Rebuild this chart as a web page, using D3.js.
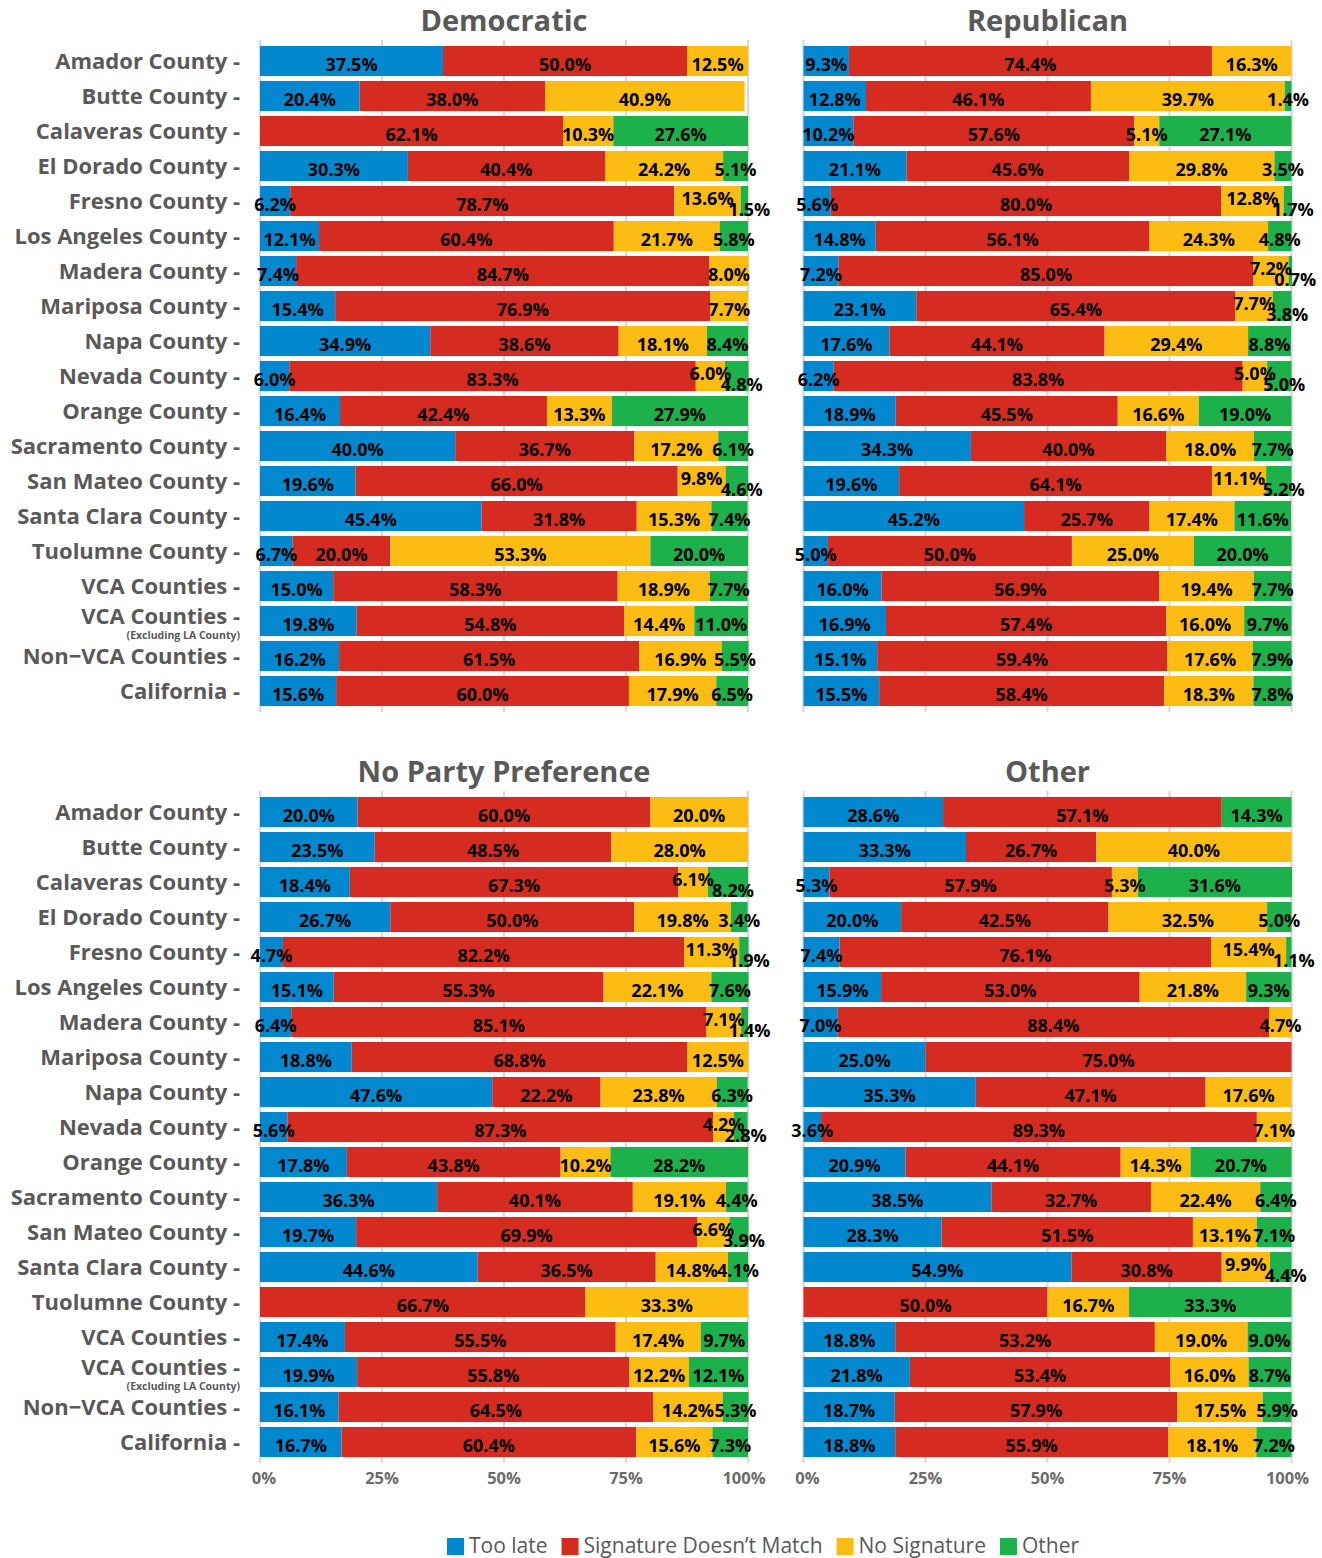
<!DOCTYPE html>
<html>
<head>
<meta charset="utf-8">
<script src="https://cdn.jsdelivr.net/npm/d3@7"></script>
<style>
  body { margin: 0; background: #fff; }
  text { font-family: "Open Sans", sans-serif; }
</style>
</head>
<body>
<script>
// Rejected ballot reasons by county, share of rejected ballots (%)
// each row: [Too late, Signature Doesn't Match, No Signature, Other]
const counties = [
  "Amador County", "Butte County", "Calaveras County", "El Dorado County",
  "Fresno County", "Los Angeles County", "Madera County", "Mariposa County",
  "Napa County", "Nevada County", "Orange County", "Sacramento County",
  "San Mateo County", "Santa Clara County", "Tuolumne County", "VCA Counties",
  "VCA Counties (Excluding LA County)", "Non\u2212VCA Counties", "California"
];
const causes = ["Too late", "Signature Doesn\u2019t Match", "No Signature", "Other"];
const causeColors = ["#0288cf", "#d62b20", "#fdbc12", "#1db14b"];
const parties = ["Democratic", "Republican", "No Party Preference", "Other"];
const xTicks = [0, 25, 50, 75, 100];

const democratic = [
  [37.5, 50.0, 12.5, 0], [20.4, 38.0, 40.9, 0], [0, 62.1, 10.3, 27.6], [30.3, 40.4, 24.2, 5.1],
  [6.2, 78.7, 13.6, 1.5], [12.1, 60.4, 21.7, 5.8], [7.4, 84.7, 8.0, 0], [15.4, 76.9, 7.7, 0],
  [34.9, 38.6, 18.1, 8.4], [6.0, 83.3, 6.0, 4.8], [16.4, 42.4, 13.3, 27.9], [40.0, 36.7, 17.2, 6.1],
  [19.6, 66.0, 9.8, 4.6], [45.4, 31.8, 15.3, 7.4], [6.7, 20.0, 53.3, 20.0], [15.0, 58.3, 18.9, 7.7],
  [19.8, 54.8, 14.4, 11.0], [16.2, 61.5, 16.9, 5.5], [15.6, 60.0, 17.9, 6.5]
];
const republican = [
  [9.3, 74.4, 16.3, 0], [12.8, 46.1, 39.7, 1.4], [10.2, 57.6, 5.1, 27.1], [21.1, 45.6, 29.8, 3.5],
  [5.6, 80.0, 12.8, 1.7], [14.8, 56.1, 24.3, 4.8], [7.2, 85.0, 7.2, 0.7], [23.1, 65.4, 7.7, 3.8],
  [17.6, 44.1, 29.4, 8.8], [6.2, 83.8, 5.0, 5.0], [18.9, 45.5, 16.6, 19.0], [34.3, 40.0, 18.0, 7.7],
  [19.6, 64.1, 11.1, 5.2], [45.2, 25.7, 17.4, 11.6], [5.0, 50.0, 25.0, 20.0], [16.0, 56.9, 19.4, 7.7],
  [16.9, 57.4, 16.0, 9.7], [15.1, 59.4, 17.6, 7.9], [15.5, 58.4, 18.3, 7.8]
];
const noPartyPreference = [
  [20.0, 60.0, 20.0, 0], [23.5, 48.5, 28.0, 0], [18.4, 67.3, 6.1, 8.2], [26.7, 50.0, 19.8, 3.4],
  [4.7, 82.2, 11.3, 1.9], [15.1, 55.3, 22.1, 7.6], [6.4, 85.1, 7.1, 1.4], [18.8, 68.8, 12.5, 0],
  [47.6, 22.2, 23.8, 6.3], [5.6, 87.3, 4.2, 2.8], [17.8, 43.8, 10.2, 28.2], [36.3, 40.1, 19.1, 4.4],
  [19.7, 69.9, 6.6, 3.9], [44.6, 36.5, 14.8, 4.1], [0, 66.7, 33.3, 0], [17.4, 55.5, 17.4, 9.7],
  [19.9, 55.8, 12.2, 12.1], [16.1, 64.5, 14.2, 5.3], [16.7, 60.4, 15.6, 7.3]
];
const otherParty = [
  [28.6, 57.1, 0, 14.3], [33.3, 26.7, 40.0, 0], [5.3, 57.9, 5.3, 31.6], [20.0, 42.5, 32.5, 5.0],
  [7.4, 76.1, 15.4, 1.1], [15.9, 53.0, 21.8, 9.3], [7.0, 88.4, 4.7, 0], [25.0, 75.0, 0, 0],
  [35.3, 47.1, 17.6, 0], [3.6, 89.3, 7.1, 0], [20.9, 44.1, 14.3, 20.7], [38.5, 32.7, 22.4, 6.4],
  [28.3, 51.5, 13.1, 7.1], [54.9, 30.8, 9.9, 4.4], [0, 50.0, 16.7, 33.3], [18.8, 53.2, 19.0, 9.0],
  [21.8, 53.4, 16.0, 8.7], [18.7, 57.9, 17.5, 5.9], [18.8, 55.9, 18.1, 7.2]
];
const partyData = [democratic, republican, noPartyPreference, otherParty];

// layout
const W = 1322, H = 1558;
const panelW = 488, panelH = 665;
const colX = [260, 803.5];
const rowY = [43.5, 794.5];
const grey = "#595959";

const svg = d3.select("body").append("svg")
  .attr("width", W)
  .attr("height", H);

const stack = d3.stack().keys([0, 1, 2, 3]);

parties.forEach((party, p) => {
  const col = p % 2, row = Math.floor(p / 2);
  const x = d3.scaleLinear().domain([0, 100]).range([colX[col], colX[col] + panelW]);
  const y = d3.scaleBand().domain(counties).range([rowY[row], rowY[row] + panelH])
    .paddingInner(0.14).paddingOuter(0.07);

  const g = svg.append("g");

  // panel title
  g.append("text")
    .attr("x", x(50))
    .attr("y", rowY[row] - 13)
    .attr("text-anchor", "middle")
    .attr("font-size", 29)
    .attr("font-weight", 700)
    .attr("fill", grey)
    .text(party);

  // vertical grid lines
  g.selectAll(".grid")
    .data(xTicks)
    .enter()
    .append("line")
    .attr("x1", d => x(d))
    .attr("x2", d => x(d))
    .attr("y1", rowY[row] - 3.5)
    .attr("y2", rowY[row] + panelH + 3.5)
    .attr("stroke", "#d9d9d9")
    .attr("stroke-width", 2.2);

  // stacked bars
  const rows = partyData[p].map((v, i) => Object.assign({ county: counties[i] }, v));
  const series = stack(rows);
  g.selectAll(".layer")
    .data(series)
    .enter()
    .append("g")
    .attr("fill", (d, i) => causeColors[i])
    .selectAll("rect")
    .data(d => d)
    .enter()
    .append("rect")
    .attr("x", d => x(d[0]))
    .attr("y", d => y(d.data.county))
    .attr("width", d => x(d[1]) - x(d[0]))
    .attr("height", y.bandwidth());

  // value labels, nudged apart where neighbours collide
  counties.forEach((c, i) => {
    const labels = [];
    series.forEach(s => {
      const seg = s[i];
      const v = seg[1] - seg[0];
      if (v <= 0) return;
      const t = g.append("text")
        .attr("text-anchor", "middle")
        .attr("font-size", 18)
        .attr("font-weight", 700)
        .attr("fill", "#000")
        .text(partyData[p][i][s.key].toFixed(1) + "%");
      labels.push({ node: t, x: x((seg[0] + seg[1]) / 2), w: t.node().getComputedTextLength(), dy: 0 });
    });
    labels.forEach((lab, k) => {
      if (k === 0) return;
      const prev = labels[k - 1];
      if (lab.x - lab.w / 2 < prev.x + prev.w / 2 - 4) {
        prev.dy = -6;
        lab.dy = 5;
        lab.x += 5;
      }
    });
    const cy = y(c) + y.bandwidth() / 2;
    labels.forEach(lab => {
      lab.node.attr("x", lab.x).attr("y", cy + 10 + lab.dy);
    });
  });

  // county labels on the left column
  if (col === 0) {
    counties.forEach(c => {
      const cy = y(c) + y.bandwidth() / 2;
      const m = c.match(/^(.*?) (\(.*\))$/);
      if (m) {
        g.append("text")
          .attr("x", 240).attr("y", cy + 3)
          .attr("text-anchor", "end")
          .attr("font-size", 22).attr("font-weight", 700).attr("fill", grey)
          .text(m[1] + " -");
        g.append("text")
          .attr("x", 240).attr("y", cy + 18)
          .attr("text-anchor", "end")
          .attr("font-size", 10.5).attr("font-weight", 700).attr("fill", grey)
          .text(m[2]);
      } else {
        g.append("text")
          .attr("x", 240).attr("y", cy + 8)
          .attr("text-anchor", "end")
          .attr("font-size", 22).attr("font-weight", 700).attr("fill", grey)
          .text(c + " -");
      }
    });
  }

  // x tick labels on the bottom row
  if (row === 1) {
    g.selectAll(".tick")
      .data(xTicks)
      .enter()
      .append("text")
      .attr("x", d => x(d) + (d === 0 ? 4 : d === 100 ? -4 : 0))
      .attr("y", rowY[row] + panelH + 24)
      .attr("text-anchor", "middle")
      .attr("font-size", 16.5)
      .attr("font-weight", 700)
      .attr("fill", "#6b6b6b")
      .text(d => d + "%");
  }
});

// legend
let lx = 447;
const legend = svg.append("g");
causes.forEach((c, i) => {
  legend.append("rect")
    .attr("x", lx).attr("y", 1538)
    .attr("width", 17).attr("height", 17)
    .attr("fill", causeColors[i]);
  const t = legend.append("text")
    .attr("x", lx + 22).attr("y", 1553)
    .attr("font-size", 21)
    .attr("fill", grey)
    .text(c);
  lx += 22 + t.node().getComputedTextLength() + 14;
});
</script>
</body>
</html>
